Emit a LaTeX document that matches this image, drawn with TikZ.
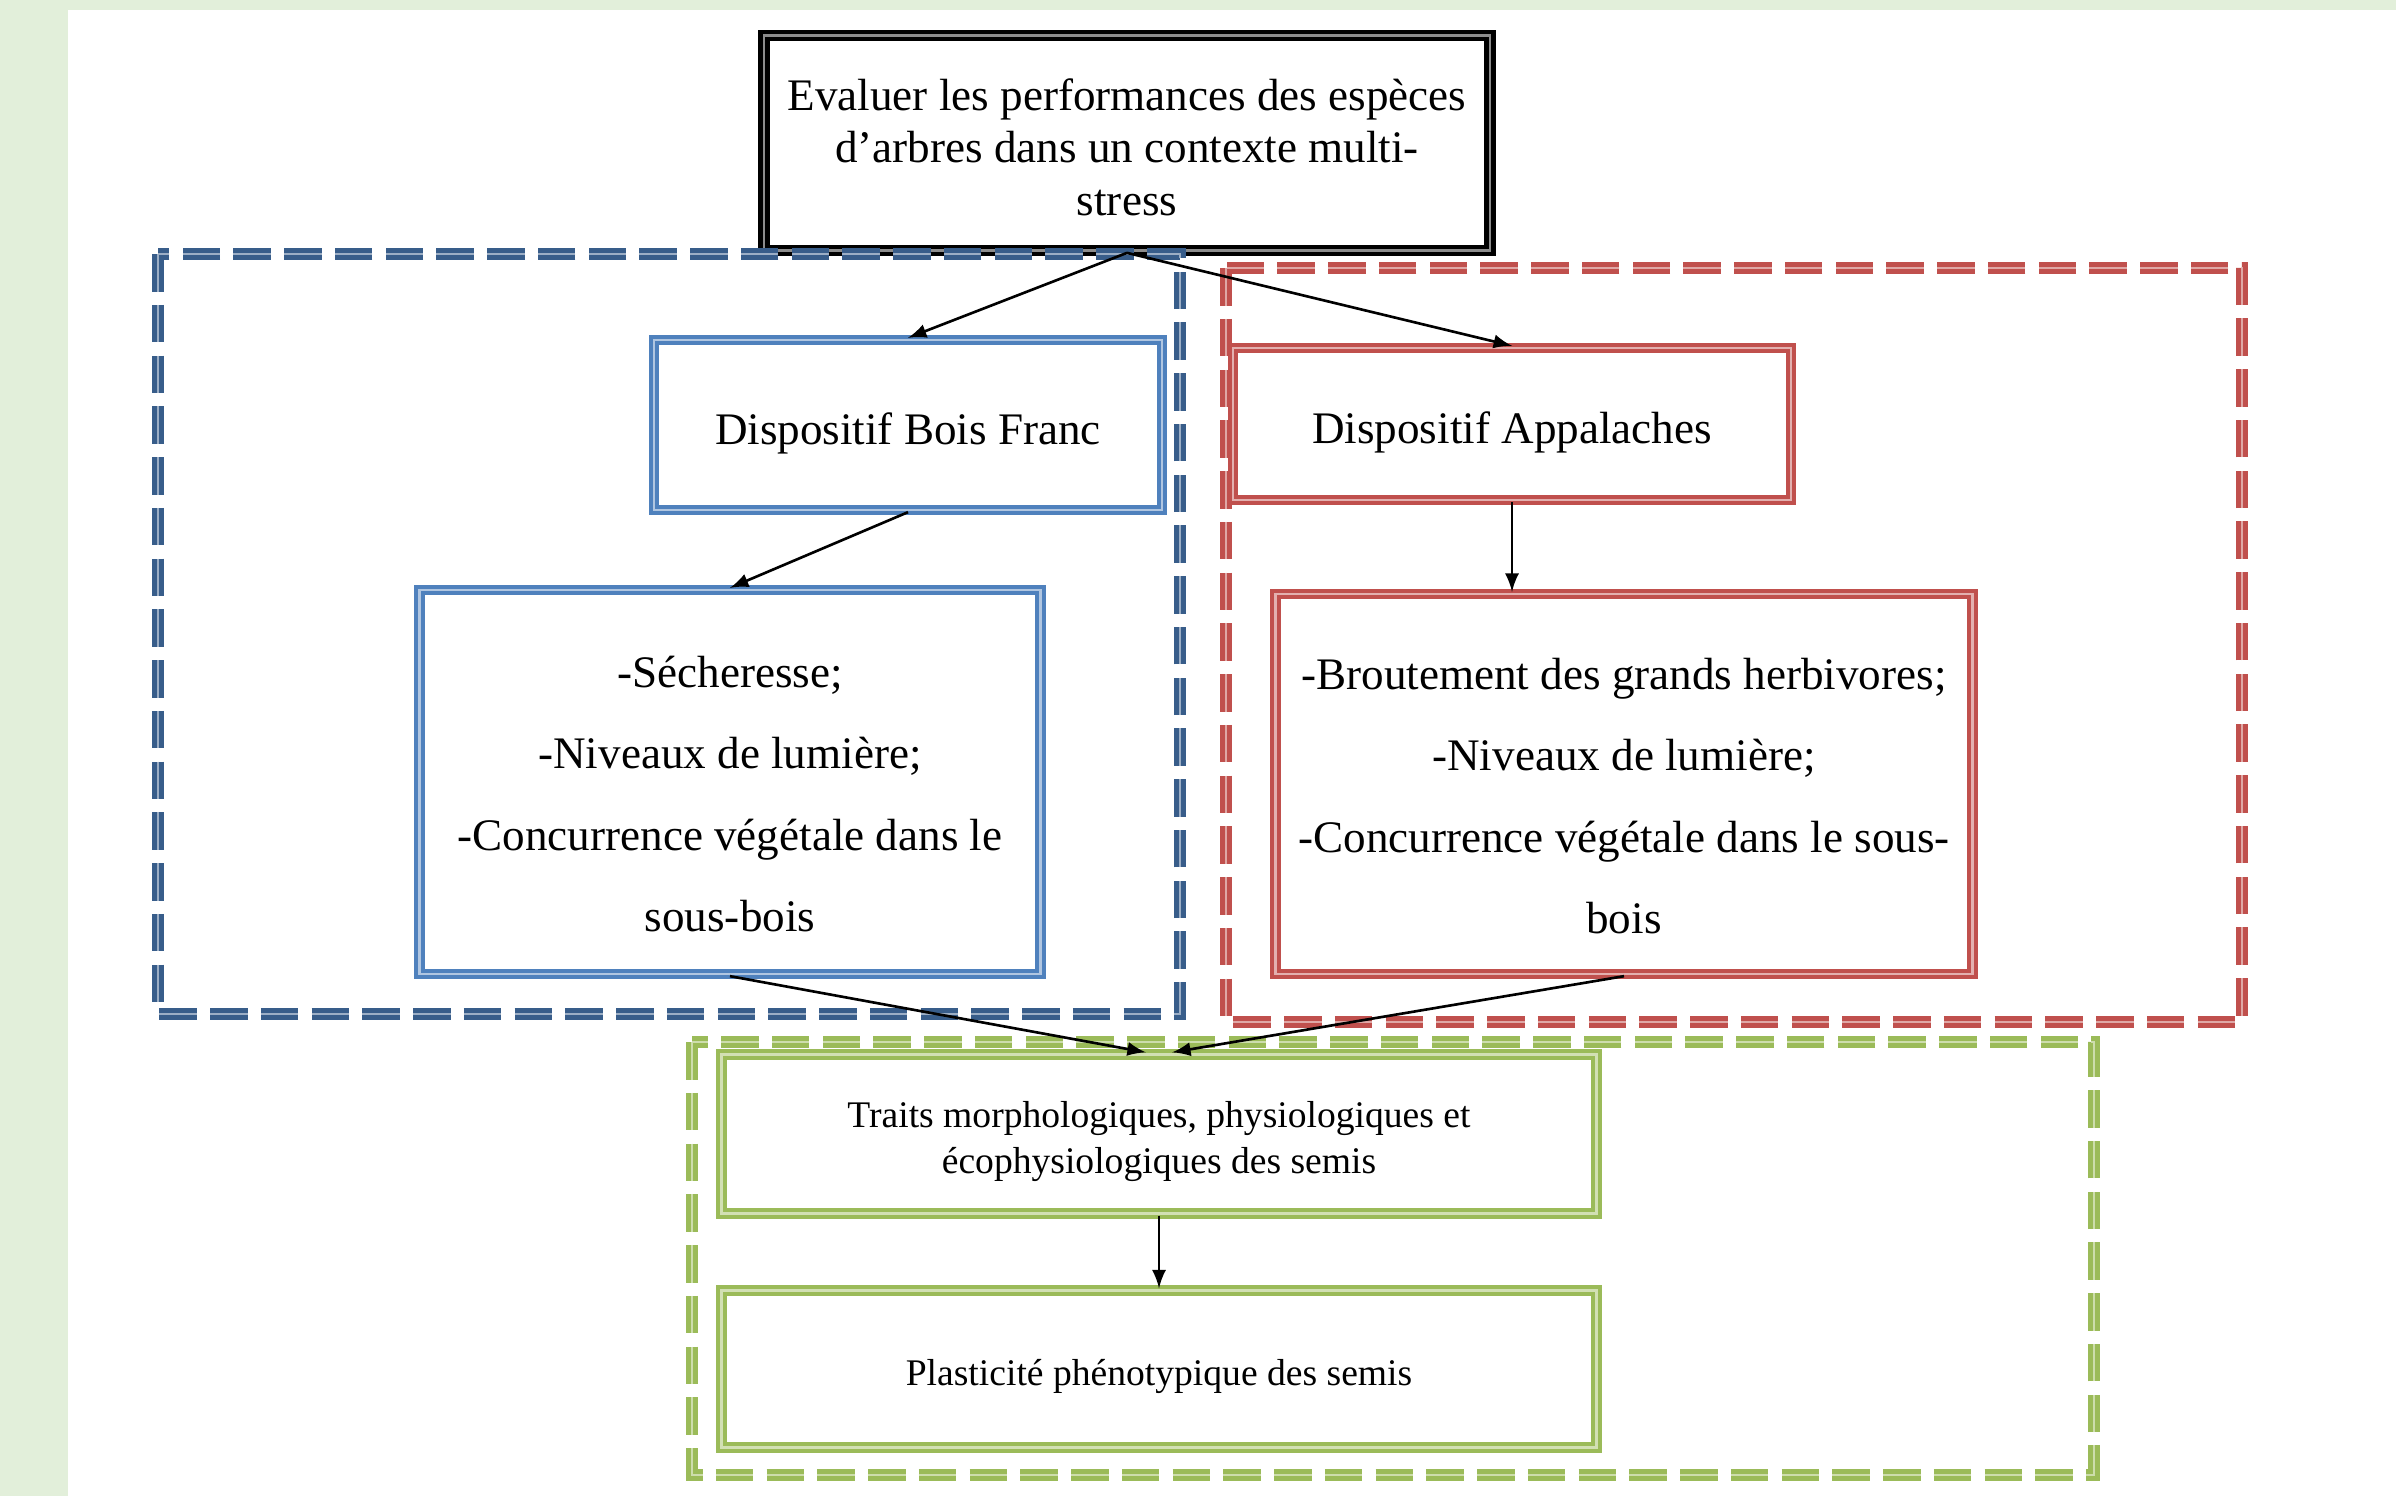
\documentclass[tikz,border=0pt]{standalone}
\usepackage{fontspec}
\setmainfont{Liberation Serif}
\usetikzlibrary{arrows,positioning}

\definecolor{bfblue}{HTML}{4F81BD}
\definecolor{bfdark}{HTML}{385D8A}
\definecolor{apred}{HTML}{C0504D}
\definecolor{trgreen}{HTML}{9BBB59}
\definecolor{pagegreen}{HTML}{E2EFDA}

\newcommand\goalsize{\fontsize{12}{14}\selectfont}
\newcommand\listsize{\fontsize{12}{21.7}\selectfont}
\newcommand\traitsize{\fontsize{10}{12.2}\selectfont}
\newcommand\lift[1]{\rule{0pt}{#1}}

\tikzset{
  px/.style 2 args={minimum width=#1*0.266pt, minimum height=#2*0.266pt},
  framebox/.style={draw=#1, line width=1.15pt, double=#1!45, double distance=0.55pt,
    fill=white, inner sep=0pt, align=center, font=\goalsize},
  zone/.style={draw=#1, line width=1.4pt, double=#1!50, double distance=0.6pt,
    dash pattern=on 10pt off 3.5pt},
  link/.style={-latex, line width=0.7pt},
}

\begin{document}
\begin{tikzpicture}[x=0.266pt, y=-0.266pt]
          % page
          \fill[pagegreen] (0,0) rectangle (2396,1496);
          \fill[white] (68,10) rectangle (2396,1496);
          \useasboundingbox (0,0) rectangle (2396,1496);
          % boxes
          \node[framebox=black, line width=1.25pt, px={726}{215}] (goal) at (1127,143) {\lift{10.7pt}Evaluer les performances des espèces\\d’arbres dans un contexte multi-\\stress};
          \node[framebox=bfblue, px={508}{170}] (bf) at (908,425) {\lift{13.1pt}Dispositif Bois Franc};
          \node[framebox=bfblue, px={621}{384}, font=\listsize] (bfstress) at (730,782) {\lift{14.7pt}-Sécheresse;\\-Niveaux de lumière;\\-Concurrence végétale dans le\\sous-bois};
          \node[framebox=apred, px={558}{152}] (app) at (1512,424) {\lift{13.1pt}Dispositif Appalaches};
          \node[framebox=apred, px={697}{380}, font=\listsize] (appstress) at (1624,784) {\lift{14.7pt}-Broutement des grands herbivores;\\-Niveaux de lumière;\\-Concurrence végétale dans le sous-\\bois};
          \node[framebox=trgreen, px={875}{159}, font=\traitsize] (traits) at (1159,1134) {\lift{10.9pt}Traits morphologiques, physiologiques et\\écophysiologiques des semis};
          \node[framebox=trgreen, px={875}{157}, font=\traitsize] (plast) at (1159,1369) {\lift{10.8pt}Plasticité phénotypique des semis};
          % dashed zones
          \draw[zone=bfdark] (158,254) rectangle (1180,1014);
          \draw[zone=apred] (1226,268) rectangle (2242,1022);
          \draw[zone=trgreen] (692,1042) rectangle (2094,1475);
          % arrows
          \draw[link] (goal.south) -- (bf.north);
          \draw[link] (goal.south) -- (app.north);
          \draw[link] (bf.south) -- (bfstress.north);
          \draw[link] (app.south) -- (app.south |- appstress.north);
          \draw[link] (bfstress.south) -- ([xshift=-3.5pt]traits.north);
          \draw[link] (appstress.south) -- ([xshift=3.5pt]traits.north);
          \draw[link] (traits.south) -- (plast.north);
        \end{tikzpicture}
\end{document}
